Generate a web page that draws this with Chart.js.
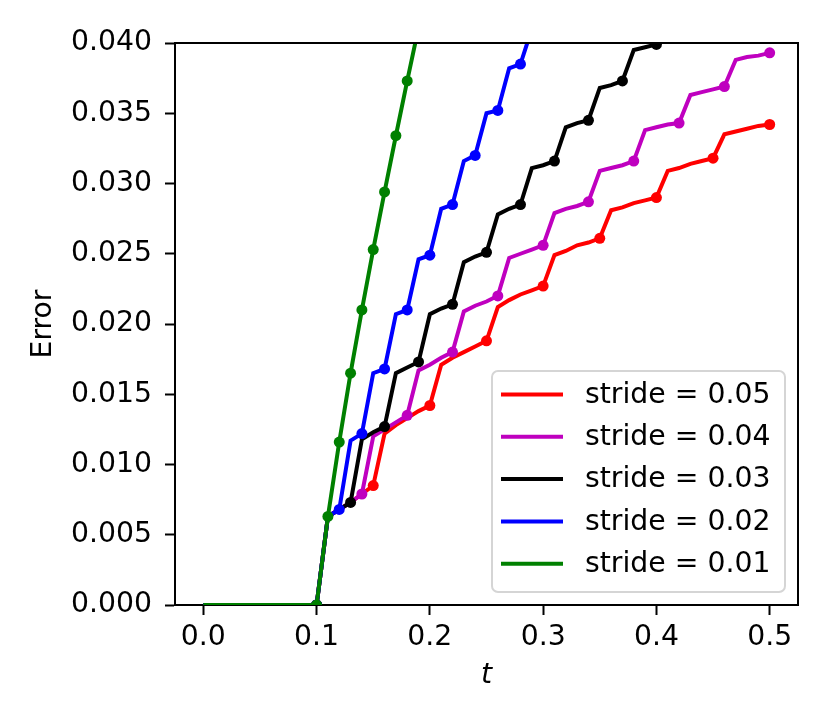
<!DOCTYPE html>
<html>
<head>
<meta charset="utf-8">
<script src="https://cdn.jsdelivr.net/npm/chart.js"></script>
<style>
  html, body { margin: 0; padding: 0; background: #fff; }
  canvas { display: block; }
</style>
</head>
<body>
<canvas id="myChart" width="830" height="727"></canvas>
<script>
// time grid (t) and the values for each stride
const times = [0.00, 0.01, 0.02, 0.03, 0.04, 0.05, 0.06, 0.07, 0.08, 0.09,
  0.10, 0.11, 0.12, 0.13, 0.14, 0.15, 0.16, 0.17, 0.18, 0.19,
  0.20, 0.21, 0.22, 0.23, 0.24, 0.25, 0.26, 0.27, 0.28, 0.29,
  0.30, 0.31, 0.32, 0.33, 0.34, 0.35, 0.36, 0.37, 0.38, 0.39,
  0.40, 0.41, 0.42, 0.43, 0.44, 0.45, 0.46, 0.47, 0.48, 0.49, 0.50];

const stride005 = [0, 0, 0, 0, 0, 0, 0, 0, 0, 0,
  0, 0.0063, 0.0068, 0.0073, 0.0079, 0.0085, 0.0122, 0.0128, 0.0133, 0.0138,
  0.0142, 0.0171, 0.0176, 0.0180, 0.0184, 0.0188, 0.0212, 0.0217, 0.0221, 0.0224,
  0.0227, 0.0249, 0.0252, 0.0256, 0.0258, 0.0261, 0.0281, 0.0283, 0.0286, 0.0288,
  0.0290, 0.0309, 0.0311, 0.0314, 0.0316, 0.0318, 0.0335, 0.0337, 0.0339, 0.0341, 0.0342];

const stride004 = [0, 0, 0, 0, 0, 0, 0, 0, 0, 0,
  0, 0.0063, 0.0068, 0.0073, 0.0079, 0.0120, 0.0125, 0.0130, 0.0135, 0.0167,
  0.0171, 0.0176, 0.0180, 0.0209, 0.0213, 0.0216, 0.0220, 0.0247, 0.0250, 0.0253,
  0.0256, 0.0279, 0.0282, 0.0284, 0.0287, 0.0309, 0.0311, 0.0313, 0.0316, 0.0338,
  0.0340, 0.0342, 0.0343, 0.0363, 0.0365, 0.0367, 0.0369, 0.0388, 0.0390, 0.0391, 0.0393];

const stride003 = [0, 0, 0, 0, 0, 0, 0, 0, 0, 0,
  0, 0.0063, 0.0068, 0.0073, 0.0118, 0.0123, 0.0127, 0.0165, 0.0169, 0.0173,
  0.0207, 0.0211, 0.0214, 0.0244, 0.0248, 0.0251, 0.0278, 0.0282, 0.0285, 0.0311,
  0.0313, 0.0316, 0.0340, 0.0343, 0.0345, 0.0368, 0.0370, 0.0373, 0.0395, 0.0397,
  0.0399];

const stride002 = [0, 0, 0, 0, 0, 0, 0, 0, 0, 0,
  0, 0.0063, 0.0068, 0.0117, 0.0122, 0.0165, 0.0168, 0.0207, 0.0210, 0.0246,
  0.0249, 0.0282, 0.0285, 0.0316, 0.0320, 0.0350, 0.0352, 0.0382, 0.0385, 0.0410];

const stride001 = [0, 0, 0, 0, 0, 0, 0, 0, 0, 0,
  0, 0.0063, 0.0116, 0.0165, 0.0210, 0.0253, 0.0294, 0.0334, 0.0373, 0.0411];

const seriesLabels = ["stride = 0.05", "stride = 0.04", "stride = 0.03", "stride = 0.02", "stride = 0.01"];
const strides = [0.05, 0.04, 0.03, 0.02, 0.01];
const xTicks = [0.0, 0.1, 0.2, 0.3, 0.4, 0.5];

const FONT = "'DejaVu Sans', sans-serif";
const FSIZE = 28.3;
const colors = ["#ff0000", "#bf00bf", "#000000", "#0000ff", "#008000"];
const allValues = [stride005, stride004, stride003, stride002, stride001];

// markers sit every stride, starting at t = 0.1
const markerRadius = (stride) => (ctx) => {
  const t = ctx.raw ? ctx.raw.x : 0;
  if (t < 0.1 - 1e-9) return 0;
  const k = (t - 0.1) / stride;
  return Math.abs(k - Math.round(k)) < 1e-6 ? 5.5 : 0;
};

const datasets = allValues.map((vals, i) => ({
  label: seriesLabels[i],
  data: vals.map((v, j) => ({ x: times[j], y: v })),
  borderColor: colors[i],
  backgroundColor: colors[i],
  borderWidth: 4,
  pointRadius: markerRadius(strides[i]),
  pointHoverRadius: markerRadius(strides[i]),
  pointBorderWidth: 0,
  pointBackgroundColor: colors[i],
  tension: 0,
  fill: false,
  order: 5 - i,
}));

// top and right spines
const framePlugin = {
  id: "frame",
  afterDraw(chart) {
    const { ctx, chartArea: a } = chart;
    ctx.save();
    ctx.strokeStyle = "#000";
    ctx.lineWidth = 2;
    ctx.beginPath();
    ctx.moveTo(a.left, a.top);
    ctx.lineTo(a.right, a.top);
    ctx.lineTo(a.right, a.bottom);
    ctx.stroke();
    ctx.restore();
  },
};

// legend inside the lower right corner, like matplotlib's
const legendPlugin = {
  id: "innerLegend",
  afterDraw(chart) {
    const { ctx, chartArea: a } = chart;
    const w = 293, h = 221;
    const x = a.right - 13 - w, y = a.bottom - 13 - h;
    ctx.save();
    ctx.fillStyle = "rgba(255,255,255,0.8)";
    ctx.strokeStyle = "#d5d5d5";
    ctx.lineWidth = 2;
    ctx.beginPath();
    ctx.roundRect(x, y, w, h, 6);
    ctx.fill();
    ctx.stroke();
    ctx.font = FSIZE + "px " + FONT;
    ctx.textBaseline = "middle";
    ctx.fillStyle = "#000";
    chart.data.datasets.forEach((ds, i) => {
      const cy = y + 23.5 + i * 42.3;
      ctx.strokeStyle = ds.borderColor;
      ctx.lineWidth = 4;
      ctx.beginPath();
      ctx.moveTo(x + 9, cy);
      ctx.lineTo(x + 71, cy);
      ctx.stroke();
      ctx.fillText(ds.label, x + 93, cy + 1);
    });
    ctx.restore();
  },
};

new Chart(document.getElementById("myChart"), {
  type: "line",
  data: { datasets: datasets },
  options: {
    responsive: false,
    animation: false,
    devicePixelRatio: 1,
    layout: { padding: { left: 0, right: 32, top: 43, bottom: 0 } },
    plugins: {
      legend: { display: false },
      tooltip: { enabled: false },
    },
    scales: {
      x: {
        type: "linear",
        min: -0.025,
        max: 0.525,
        afterBuildTicks: (scale) => {
          scale.ticks = xTicks.map((v) => ({ value: v }));
        },
        afterFit: (scale) => { scale.height = 122; },
        ticks: {
          callback: (v) => Number(v).toFixed(1),
          font: { family: FONT, size: FSIZE },
          color: "#000",
          padding: 6,
          maxRotation: 0,
        },
        grid: { drawOnChartArea: false, drawTicks: true, tickLength: 10, tickWidth: 2, tickColor: "#000" },
        border: { display: true, color: "#000", width: 2 },
        title: {
          display: true,
          text: "t",
          color: "#000",
          font: { family: FONT, size: FSIZE, style: "italic", lineHeight: 1.2 },
          padding: { top: 0, bottom: 34.5 },
        },
      },
      y: {
        min: 0,
        max: 0.04,
        afterFit: (scale) => { scale.width = 175; },
        ticks: {
          stepSize: 0.005,
          callback: (v) => Number(v).toFixed(3),
          font: { family: FONT, size: FSIZE },
          color: "#000",
          padding: 13,
        },
        grid: { drawOnChartArea: false, drawTicks: true, tickLength: 10, tickWidth: 2, tickColor: "#000" },
        border: { display: true, color: "#000", width: 2 },
        title: {
          display: true,
          text: "Error",
          color: "#000",
          font: { family: FONT, size: FSIZE, lineHeight: 1.2 },
          padding: { top: 27, bottom: 0 },
        },
      },
    },
  },
  plugins: [framePlugin, legendPlugin],
});
</script>
</body>
</html>
